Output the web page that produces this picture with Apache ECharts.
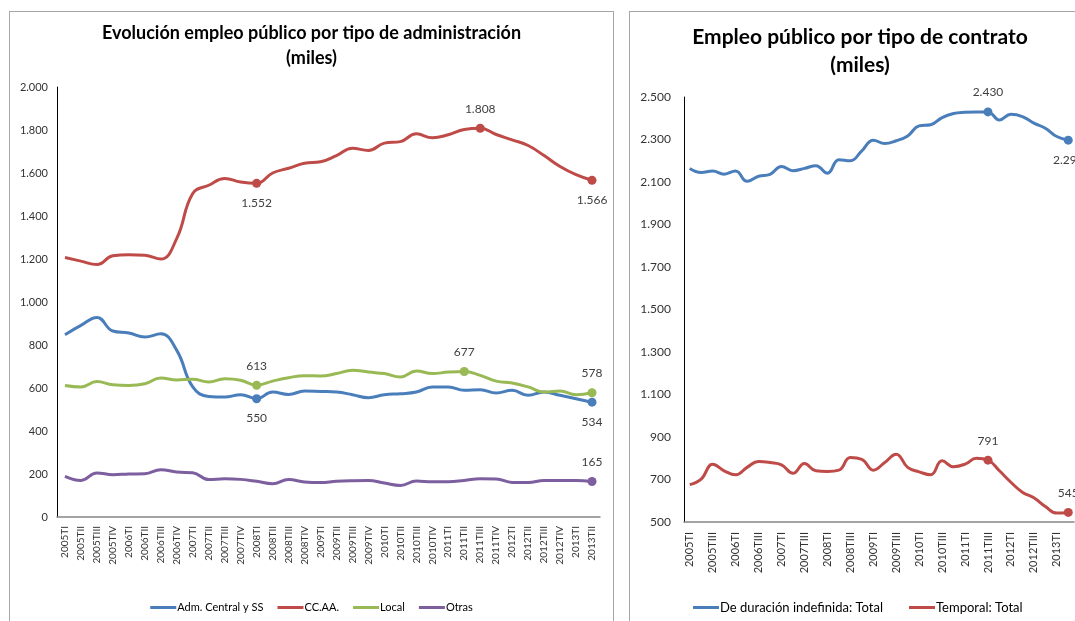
<!DOCTYPE html>
<html>
<head>
<meta charset="utf-8">
<script src="https://cdn.jsdelivr.net/npm/echarts@6/dist/echarts.min.js"></script>
<style>
  html, body { margin: 0; padding: 0; background: #fff; overflow: hidden; }
  .box { position: absolute; border: 1px solid #a6a6a6; background: #fff; }
  #left { left: 9px; top: 11px; width: 603px; height: 615px; }
  #right { left: 629px; top: 11px; width: 460px; height: 615px; }
</style>
</head>
<body>
<div id="left" class="box"></div>
<div id="right" class="box"></div>
<script>
// trimestres 2005TI .. 2013TII
var quarters = ['2005TI','2005TII','2005TIII','2005TIV','2006TI','2006TII','2006TIII','2006TIV',
  '2007TI','2007TII','2007TIII','2007TIV','2008TI','2008TII','2008TIII','2008TIV',
  '2009TI','2009TII','2009TIII','2009TIV','2010TI','2010TII','2010TIII','2010TIV',
  '2011TI','2011TII','2011TIII','2011TIV','2012TI','2012TII','2012TIII','2012TIV',
  '2013TI','2013TII']

// grafico izquierdo: por tipo de administracion
var admCentral = [848,891,928,865,856,837,852,775,605,561,558,569,550,581,570,586,
  584,581,569,555,569,573,581,605,605,589,592,577,589,566,581,566,550,534]
var ccaa = [1207,1190,1174,1215,1220,1218,1200,1296,1505,1543,1575,1558,1552,1600,1622,1645,
  1652,1681,1715,1705,1739,1746,1782,1764,1778,1802,1808,1779,1754,1728,1681,1630,1592,1566]
var local = [612,605,630,615,612,620,646,637,641,628,643,636,613,632,648,657,
  656,667,683,674,667,651,679,667,674,677,659,632,623,605,581,586,569,578]
var otras = [189,170,205,197,200,201,220,209,206,174,178,175,166,155,174,163,
  160,166,169,170,158,147,167,164,164,170,178,177,161,161,170,170,170,165]

// grafico derecho: por tipo de contrato
var indefinida = [2164,2145,2152,2137,2152,2103,2127,2136,2173,2153,2164,2177,2141,2205,2200,2247,
  2297,2281,2294,2317,2364,2369,2403,2422,2428,2430,2430,2392,2419,2408,2377,2353,2314,2297]
var temporal = [676,702,772,741,722,757,785,780,769,729,775,741,738,744,803,795,
  744,780,819,757,736,722,788,760,772,800,791,741,687,640,614,573,542,545]

// puntos con etiqueta: [indice, posicion]
var labAdm = [[12,'bottom'],[33,'bottom']]
var labCcaa = [[12,'bottom'],[26,'top'],[33,'bottom']]
var labLocal = [[12,'top'],[25,'top'],[33,'top']]
var labOtras = [[33,'top']]
var labIndef = [[26,'top'],[33,'bottom']]
var labTemp = [[26,'top'],[33,'top']]

var FONT = 'Lato, "Open Sans", sans-serif'

function miles(v) {
  return String(v).replace(/\B(?=(\d{3})+(?!\d))/g, '.')
}

function withLabels(values, marks) {
  var data = values.slice()
  marks.forEach(function (m) {
    data[m[0]] = {
      value: values[m[0]],
      symbol: 'circle',
      symbolSize: 9,
      label: { show: true, position: m[1], distance: 9 }
    }
  })
  return data
}

function lineSeries(name, color, values, marks) {
  return {
    name: name,
    type: 'line',
    smooth: 0.45,
    symbol: 'none',
    showAllSymbol: true,
    data: withLabels(values, marks),
    lineStyle: { color: color, width: 3 },
    itemStyle: { color: color },
    label: {
      fontFamily: FONT, fontSize: 12, color: '#404040',
      formatter: function (p) { return miles(p.value) }
    }
  }
}

function baseOption(cfg) {
  return {
    animation: false,
    title: {
      text: cfg.title,
      left: 'center',
      top: cfg.titleTop,
      textStyle: { fontFamily: FONT, fontSize: cfg.titleSize, fontWeight: 'bold', color: '#000', lineHeight: cfg.titleLine }
    },
    legend: {
      top: cfg.legendTop,
      left: cfg.legendLeft,
      icon: 'rect',
      itemWidth: 26,
      itemHeight: 3,
      itemGap: cfg.legendGap,
      textStyle: { fontFamily: FONT, fontSize: cfg.legendSize, color: '#000', padding: [0, 0, 0, -4] }
    },
    grid: cfg.grid,
    xAxis: {
      type: 'category',
      data: quarters,
      boundaryGap: true,
      axisLine: { lineStyle: { color: '#868686', width: 1.5 } },
      axisTick: { show: false },
      axisLabel: {
        rotate: 90, interval: cfg.labelInterval, margin: cfg.xMargin,
        fontFamily: FONT, fontSize: cfg.xSize, color: '#333'
      }
    },
    yAxis: {
      type: 'value',
      min: cfg.min, max: cfg.max, interval: 200,
      splitLine: { show: false },
      axisLine: { show: true, lineStyle: { color: '#000', width: 1 } },
      axisTick: { show: false },
      axisLabel: {
        margin: cfg.yMargin,
        fontFamily: FONT, fontSize: cfg.ySize, color: '#333',
        formatter: miles
      }
    },
    series: cfg.series
  }
}

var leftChart = echarts.init(document.getElementById('left'))
leftChart.setOption(baseOption({
  title: 'Evolución empleo público por tipo de administración\n(miles)',
  titleTop: 4, titleSize: 18, titleLine: 25,
  legendTop: 585, legendLeft: 'center', legendGap: 14, legendSize: 11,
  grid: { left: 47, top: 75, width: 543, height: 430 },
  labelInterval: 0, xMargin: 9, xSize: 10,
  min: 0, max: 2000, yMargin: 9, ySize: 11,
  series: [
    lineSeries('Adm. Central y SS', '#4a7ebb', admCentral, labAdm),
    lineSeries('CC.AA.', '#be4b48', ccaa, labCcaa),
    lineSeries('Local', '#98b954', local, labLocal),
    lineSeries('Otras', '#7d5fa0', otras, labOtras)
  ]
}))

var rightChart = echarts.init(document.getElementById('right'))
rightChart.setOption(baseOption({
  title: 'Empleo público por tipo de contrato\n(miles)',
  titleTop: 6, titleSize: 21, titleLine: 28,
  legendTop: 584, legendLeft: 58, legendGap: 26, legendSize: 13,
  grid: { left: 54, top: 85, width: 390, height: 425 },
  labelInterval: 1, xMargin: 10, xSize: 11,
  min: 500, max: 2500, yMargin: 13, ySize: 12,
  series: [
    lineSeries('De duración indefinida: Total', '#4a7ebb', indefinida, labIndef),
    lineSeries('Temporal: Total', '#be4b48', temporal, labTemp)
  ]
}))
</script>
</body>
</html>
